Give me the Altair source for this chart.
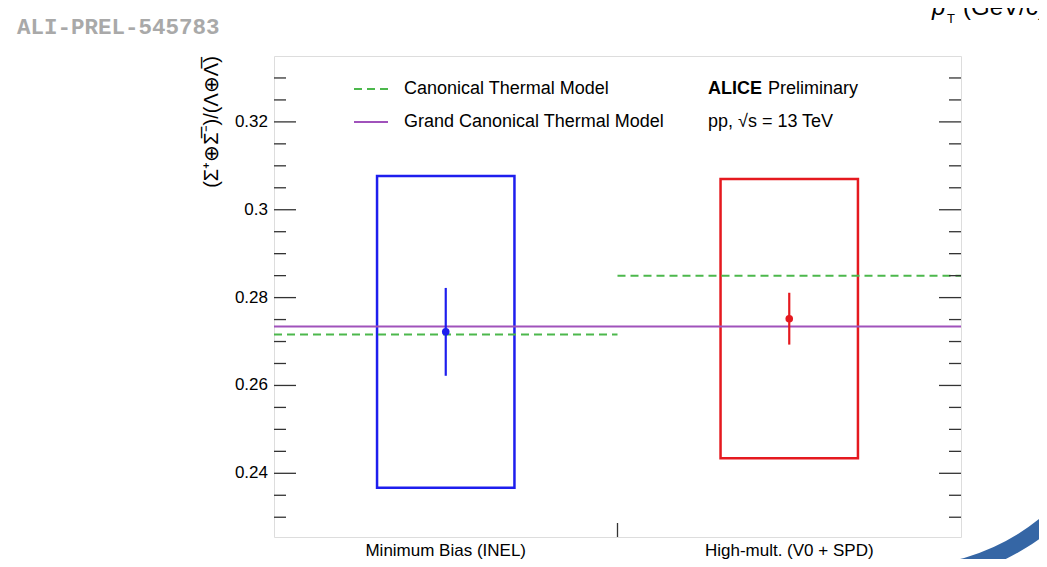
import altair as alt
import pandas as pd

# ---------------- data ----------------
categories = ["Minimum Bias (INEL)", "High-mult. (V0 + SPD)"]
cat_pos = [0.5, 1.5]
ratio = [0.2722, 0.2752]
stat_err = [0.0100, 0.0059]
syst_err = [0.0355, 0.0318]
point_colors = ["#1e1eee", "#e5191f"]

canonical = [0.2716, 0.2850]          # Canonical Thermal Model, per class
grand_canonical = [0.2734]            # Grand Canonical Thermal Model

major_ticks = [0.24, 0.26, 0.28, 0.30, 0.32]
minor_ticks = [0.23, 0.235, 0.245, 0.25, 0.255, 0.265, 0.27, 0.275,
               0.285, 0.29, 0.295, 0.305, 0.31, 0.315, 0.325, 0.33]

# ---------------- layout / style ----------------
W, H = 687, 481
FONT = "Liberation Sans"
FRAME = "#333333"
GREEN = "#4cb84c"
PURPLE = "#a052bb"
BOX_HALF = 0.2

xs = alt.Scale(domain=[0, 2], nice=False, zero=False)
ys = alt.Scale(domain=[0.2255, 0.335], nice=False, zero=False)

df = pd.DataFrame({"cat": categories, "x": cat_pos, "v": ratio,
                   "stat": stat_err, "syst": syst_err, "col": point_colors})
df_can = pd.DataFrame({"x": cat_pos, "y": canonical})
df_gc = pd.DataFrame({"y": grand_canonical})
df_major = pd.DataFrame({"t": major_ticks})
df_minor = pd.DataFrame({"t": minor_ticks})
one = pd.DataFrame({"a": [0]})
mid = (cat_pos[0] + cat_pos[1]) / 2

base = alt.Chart(df).transform_calculate(
    xl=f"datum.x - {BOX_HALF}", xh=f"datum.x + {BOX_HALF}",
    sl="datum.v - datum.syst", sh="datum.v + datum.syst",
    el="datum.v - datum.stat", eh="datum.v + datum.stat",
)

boxes = base.mark_rect(filled=False, strokeWidth=2.5).encode(
    x=alt.X("xl:Q", scale=xs, axis=None), x2="xh:Q",
    y=alt.Y("sl:Q", scale=ys, axis=None), y2="sh:Q",
    color=alt.Color("col:N", scale=None),
)

errs = base.mark_rule(strokeWidth=2.2).encode(
    x=alt.X("x:Q", scale=xs, axis=None),
    y=alt.Y("el:Q", scale=ys, axis=None), y2="eh:Q",
    color=alt.Color("col:N", scale=None),
)

pts = base.mark_circle(size=58, opacity=1).encode(
    x=alt.X("x:Q", scale=xs, axis=None),
    y=alt.Y("v:Q", scale=ys, axis=None),
    color=alt.Color("col:N", scale=None),
)

can_lines = alt.Chart(df_can).transform_calculate(
    x0="datum.x - 0.5", x1="datum.x + 0.5"
).mark_rule(color=GREEN, strokeWidth=2, strokeDash=[8, 5]).encode(
    x=alt.X("x0:Q", scale=xs, axis=None), x2="x1:Q",
    y=alt.Y("y:Q", scale=ys, axis=None),
)

gc_line = alt.Chart(df_gc).mark_rule(color=PURPLE, strokeWidth=2).encode(
    x=alt.X(datum=0, scale=xs, axis=None), x2=alt.X2(datum=2),
    y=alt.Y("y:Q", scale=ys, axis=None),
)

def ticks(d, x0, x1):
    return alt.Chart(d).mark_rule(color=FRAME, strokeWidth=1.3).encode(
        y=alt.Y("t:Q", scale=ys, axis=None), x=alt.value(x0), x2=alt.value(x1))

tick_layers = [ticks(df_major, 0, 22), ticks(df_minor, 0, 12),
               ticks(df_major, W, W - 22), ticks(df_minor, W, W - 12)]

tick_labels = alt.Chart(df_major).transform_calculate(
    lab="format(datum.t, '.2~f')"
).mark_text(font=FONT, fontSize=17, align="right", baseline="middle", color="black").encode(
    y=alt.Y("t:Q", scale=ys, axis=None), x=alt.value(-6), text="lab:N")

mid_tick = alt.Chart(one).mark_rule(color=FRAME, strokeWidth=1.3).encode(
    x=alt.X(datum=mid, scale=xs, axis=None), y=alt.value(H), y2=alt.value(H - 14))

cat_labels = alt.Chart(df).mark_text(font=FONT, fontSize=17, baseline="middle",
                                     align="center", color="black").encode(
    x=alt.X("x:Q", scale=xs, axis=None), y=alt.value(H + 14), text="cat:N")

def txt(s, x, y, size=18, **kw):
    opts = dict(font=FONT, fontSize=size, align="left", baseline="middle", color="black")
    opts.update(kw)
    return alt.Chart(one).mark_text(text=s, **opts).encode(x=alt.value(x), y=alt.value(y))

leg_can = alt.Chart(one).mark_rule(color=GREEN, strokeWidth=2, strokeDash=[8, 5]).encode(
    x=alt.value(80), x2=alt.value(114), y=alt.value(33))
leg_gc = alt.Chart(one).mark_rule(color=PURPLE, strokeWidth=2).encode(
    x=alt.value(80), x2=alt.value(114), y=alt.value(66))

texts = [
    txt("Canonical Thermal Model", 130, 33),
    txt("Grand Canonical Thermal Model", 130, 66),
    txt("ALICE", 434, 33, fontWeight="bold"),
    txt("Preliminary", 494, 33),
    txt("pp, \u221as = 13 TeV", 434, 66),
    txt("(\u03a3\u207a\u2295\u03a3\u0305\u207b)/(\u039b\u2295\u039b\u0305)", -62, 66,
        size=20, align="center", angle=270),
    txt("ALI-PREL-545783", -257, -22, size=22.5, font="Liberation Mono",
        fontWeight="bold", color="#a9a9a9", baseline="alphabetic"),
    txt("p", 658, -41, size=24, fontStyle="italic", baseline="alphabetic"),
    txt("T", 673, -33, size=13, baseline="alphabetic"),
    txt("(GeV/c)", 689, -41, size=24, baseline="alphabetic"),
]

arc = alt.Chart(one).mark_arc(radius=228, radius2=212, theta=2.05, theta2=3.12,
                              color="#3566a5").encode(x=alt.value(632), y=alt.value(298))

chart = alt.layer(
    boxes, can_lines, gc_line, errs, pts, *tick_layers, tick_labels, mid_tick, cat_labels,
    leg_can, leg_gc, *texts, arc
).resolve_scale(x="shared", y="shared").properties(
    width=W, height=H,
    padding={"left": 266, "top": 48, "right": 78, "bottom": 22},
    autosize=alt.AutoSizeParams(type="none"),
).configure_view(stroke=FRAME, strokeWidth=1.5).configure(background="white")

chart.save("out.html", embed_options={"renderer": "svg", "actions": False})
